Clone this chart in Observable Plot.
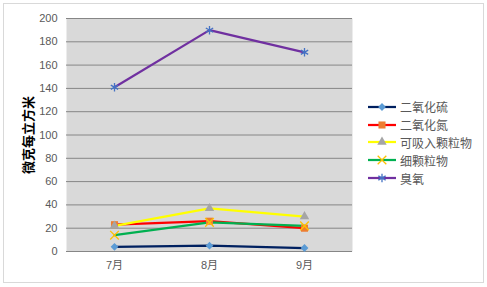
<!DOCTYPE html>
<html><head><meta charset="utf-8">
<script src="https://cdn.jsdelivr.net/npm/d3@7"></script>
<script src="https://cdn.jsdelivr.net/npm/@observablehq/plot@0.6"></script>
<style>
body{margin:0;background:#fff;font-family:"Liberation Sans","Noto Sans CJK SC",sans-serif;}
#wrap{position:relative;width:487px;height:287px;overflow:hidden;}
#border{position:absolute;left:3px;top:3px;width:479px;height:278px;border:1px solid #d9d9d9;}
#chart{position:absolute;left:0;top:0;}
#legend{position:absolute;left:368px;top:98px;font-size:12px;color:#595959;}
.row{display:flex;align-items:center;height:17.8px;}
.row svg{margin-right:3px;}
</style></head>
<body><div id="wrap"><div id="border"></div><div id="chart"></div><div id="legend"></div></div>
<script>
const months = ["7月", "8月", "9月"];
const seriesNames = ["二氧化硫", "二氧化氮", "可吸入颗粒物", "细颗粒物", "臭氧"];
const so2  = [4, 5, 3];
const no2  = [23, 26, 20];
const pm10 = [22, 37, 30];
const pm25 = [14, 25, 22];
const o3   = [141, 190, 171];
const yTicks = [0, 20, 40, 60, 80, 100, 120, 140, 160, 180, 200];
const yTitle = "微克每立方米";

const lineColors = ["#002060", "#ff0000", "#ffff00", "#00b050", "#7030a0"];
const markColors = ["#5b9bd5", "#ed7d31", "#a5a5a5", "#ffc000", "#4472c4"];
const symbols = ["diamond2", "square2", "triangle2", "times", "asterisk"];
const sizes = [3.5, 4.5, 4.5, 4, 4];

const allValues = [so2, no2, pm10, pm25, o3];
const data = [];
allValues.forEach((vals, si) => vals.forEach((v, i) => data.push({series: seriesNames[si], month: months[i], value: v})));

const marks = [
  Plot.frame({fill: "#d9d9d9", stroke: null}),
  Plot.gridY(yTicks, {stroke: "#868686", strokeOpacity: 1, strokeWidth: 1})
];
seriesNames.forEach((name, si) => {
  const d = data.filter(r => r.series === name);
  marks.push(Plot.line(d, {x: "month", y: "value", stroke: lineColors[si], strokeWidth: 2.25}));
});
seriesNames.forEach((name, si) => {
  const d = data.filter(r => r.series === name);
  const isStroke = symbols[si] === "times" || symbols[si] === "asterisk";
  marks.push(Plot.dot(d, {x: "month", y: "value", symbol: () => symbols[si], r: sizes[si],
    fill: isStroke ? "none" : markColors[si], stroke: isStroke ? markColors[si] : "none", strokeWidth: isStroke ? 1.3 : 0}));
});
marks.push(Plot.axisY(yTicks, {tickSize: 0, tickPadding: 9, fontSize: 11, fill: "#595959", label: null}));
marks.push(Plot.axisX({tickSize: 0, tickPadding: 10, fontSize: 11, fill: "#595959", label: null}));
marks.push(Plot.text([yTitle], {frameAnchor: "left", textAnchor: "middle", dx: -38, rotate: -90, text: d => d, fontSize: 13, fontWeight: "bold", fill: "#000"}));

const chart = Plot.plot({
  width: 487, height: 287,
  marginLeft: 66, marginRight: 135, marginTop: 18, marginBottom: 36,
  style: {fontFamily: '"Liberation Sans","Noto Sans CJK SC",sans-serif', background: "transparent"},
  x: {type: "point", domain: months, padding: 0.5},
  y: {domain: [0, 200]},
  symbol: {type: "identity"},
  marks
});
document.getElementById("chart").appendChild(chart);

const legend = d3.select("#legend");
seriesNames.forEach((name, si) => {
  const row = legend.append("div").attr("class", "row");
  const s = row.append("svg").attr("width", 29).attr("height", 12);
  s.append("line").attr("x1", 0).attr("x2", 28).attr("y1", 6).attr("y2", 6).attr("stroke", lineColors[si]).attr("stroke-width", 2.25);
  const isStroke = symbols[si] === "times" || symbols[si] === "asterisk";
  const symObj = {diamond2: d3.symbolDiamond2, square2: d3.symbolSquare2, triangle2: d3.symbolTriangle2, times: d3.symbolTimes, asterisk: d3.symbolAsterisk}[symbols[si]];
  const r = sizes[si];
  s.append("path").attr("transform", "translate(14,6)")
    .attr("d", d3.symbol(symObj, Math.PI * r * r)())
    .attr("fill", isStroke ? "none" : markColors[si])
    .attr("stroke", isStroke ? markColors[si] : "none").attr("stroke-width", 1.3);
  row.append("span").text(name);
});
</script></body></html>
